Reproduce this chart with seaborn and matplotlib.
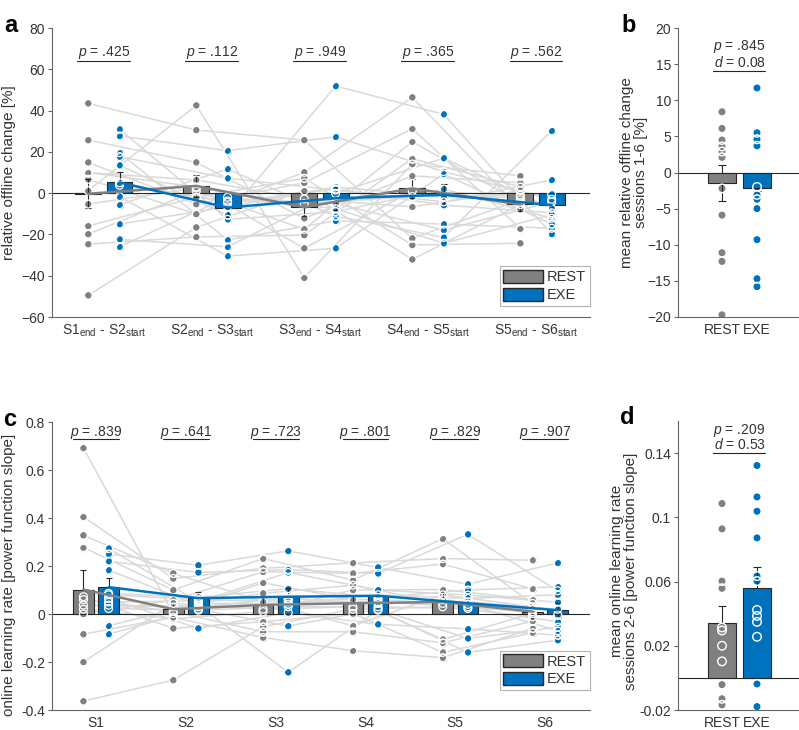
import numpy as np
import pandas as pd
import matplotlib
matplotlib.use('Agg')
import matplotlib.pyplot as plt
import seaborn as sns
from matplotlib.patches import Patch

REST_COLOR = '#808080'
EXE_COLOR = '#0072bd'
SUBJ_COLOR = '#d9d9d9'
TEXT_COLOR = '#333333'

# ---- panel a: offline change between sessions (one list per transition, subject order kept)
offline_labels = [r'S1$_{\rm end}$ - S2$_{\rm start}$', r'S2$_{\rm end}$ - S3$_{\rm start}$',
                  r'S3$_{\rm end}$ - S4$_{\rm start}$', r'S4$_{\rm end}$ - S5$_{\rm start}$',
                  r'S5$_{\rm end}$ - S6$_{\rm start}$']
offline_rest = [
    [43.5, 25.7, 14.9, 9.9, 6.7, 1.2, -5.3, -15.9, -19.8, -24.7, -49.5, 10.0],
    [30.6, 14.9, -5.3, 6.4, -10.1, 42.5, 2.5, -2.0, 1.0, -21.2, -16.6, 3.0],
    [25.7, -12.2, 5.0, -2.8, 10.1, -41.0, -5.0, 7.2, -17.5, -20.3, 1.2, -26.7],
    [-21.9, 8.4, 31.2, -6.6, 46.4, 14.1, -1.7, -25.1, 24.9, 16.7, -32.1, 1.0],
    [-3.3, 5.0, -17.2, 1.2, -7.8, 8.4, -2.0, -24.3, -4.5, 3.0, -5.5, -1.0],
]
offline_exe = [
    [30.9, 27.7, 19.6, 17.7, 13.5, 3.8, -1.7, -5.6, -15.0, -22.4, -26.0, 5.0],
    [-12.7, 20.6, -22.7, 7.2, -10.6, -3.8, -30.5, 11.7, -6.6, -26.0, -2.0, -4.5],
    [-9.0, 27.3, -13.4, 1.5, 51.9, -5.0, -26.7, -11.1, 3.0, -0.1, -7.5, 2.0],
    [2.0, 10.4, -15.0, -4.2, 38.2, -17.9, 9.3, -21.4, -1.7, 17.0, -24.3, -5.8],
    [-12.2, -3.0, -17.0, 6.4, -19.8, -4.2, -15.0, 30.2, -0.6, -7.4, -10.5, -9.5],
]
offline_rest_mean = [-0.3, 3.5, -6.8, 2.3, -5.5]
offline_rest_sem = [7.0, 5.5, 4.5, 4.5, 3.0]
offline_exe_mean = [5.2, -7.0, -2.5, -0.8, -5.8]
offline_exe_sem = [5.0, 4.5, 5.5, 5.0, 3.5]
offline_p = ['.425', '.112', '.949', '.365', '.562']

# ---- panel b: mean offline change sessions 1-6
mean_off_rest = [8.4, 6.1, 4.5, 3.6, 2.9, 2.1, -2.2, -5.9, -11.1, -12.3, -19.7]
mean_off_exe = [11.7, 5.5, 4.6, 3.7, -2.0, -3.1, -3.7, -5.0, -9.3, -14.7, -15.8]
mean_off_bar = [-1.5, -2.1]
mean_off_sem = [2.5, 0.4]

# ---- panel c: online learning rate per session
online_labels = ['S1', 'S2', 'S3', 'S4', 'S5', 'S6']
online_rest = [
    [0.692, 0.405, 0.328, 0.277, 0.072, 0.037, 0.0, -0.084, -0.2, -0.363, 0.06, 0.02],
    [0.002, 0.148, 0.169, 0.1, -0.06, 0.03, 0.058, -0.014, 0.045, -0.275, 0.01, -0.02],
    [0.13, 0.19, 0.051, 0.231, -0.032, 0.086, 0.176, -0.098, 0.02, -0.053, -0.074, 0.01],
    [0.06, 0.213, -0.049, 0.141, 0.002, 0.12, 0.169, -0.153, 0.03, 0.02, -0.074, 0.1],
    [-0.106, 0.231, 0.08, 0.314, -0.16, 0.044, 0.208, -0.182, 0.06, 0.03, -0.12, 0.102],
    [0.002, 0.224, 0.03, 0.044, -0.078, 0.019, 0.105, -0.06, 0.01, -0.012, -0.03, 0.06],
]
online_exe = [
    [0.273, 0.25, 0.22, 0.183, 0.086, 0.065, 0.037, 0.023, -0.049, -0.084, 0.08, 0.05],
    [0.05, 0.203, 0.173, 0.037, 0.069, -0.06, 0.03, 0.016, 0.045, 0.02, 0.06, 0.055],
    [0.173, 0.263, 0.185, -0.243, 0.106, 0.006, 0.065, 0.03, 0.041, -0.05, 0.05, 0.06],
    [0.1, 0.194, 0.169, 0.016, 0.069, -0.043, 0.044, 0.03, 0.08, 0.02, 0.05, 0.06],
    [0.079, 0.124, 0.332, -0.16, 0.1, -0.062, 0.051, 0.023, 0.065, -0.102, 0.03, 0.04],
    [0.049, 0.213, 0.097, -0.109, 0.113, -0.088, 0.02, -0.032, 0.08, -0.055, -0.004, -0.07],
]
online_rest_mean = [0.102, 0.02, 0.038, 0.045, 0.05, 0.01]
online_rest_sem = [0.08, 0.03, 0.03, 0.03, 0.04, 0.025]
online_exe_mean = [0.112, 0.066, 0.072, 0.076, 0.045, 0.016]
online_exe_sem = [0.036, 0.024, 0.035, 0.02, 0.04, 0.03]
online_p = ['.839', '.641', '.723', '.801', '.829', '.907']

# ---- panel d: mean online learning rate sessions 2-6
mean_on_rest = [0.1086, 0.0928, 0.0603, 0.0558, 0.0314, 0.0295, 0.02, 0.0103, -0.0042, -0.013, -0.0168]
mean_on_exe = [0.1323, 0.1127, 0.1038, 0.0872, 0.0634, 0.0603, 0.0423, 0.0386, 0.0349, 0.0256, -0.0038, -0.0179]
mean_on_bar = [0.034, 0.056]
mean_on_sem = [0.011, 0.013]

sns.set_style('ticks')
plt.rcParams['font.family'] = ['Liberation Sans', 'DejaVu Sans']
plt.rcParams['mathtext.fontset'] = 'custom'
plt.rcParams['mathtext.rm'] = 'Liberation Sans'
plt.rcParams['mathtext.it'] = 'Liberation Sans:italic'
plt.rcParams['text.color'] = TEXT_COLOR
plt.rcParams['axes.labelcolor'] = TEXT_COLOR
plt.rcParams['xtick.color'] = '#666666'
plt.rcParams['ytick.color'] = '#666666'
plt.rcParams['xtick.labelcolor'] = TEXT_COLOR
plt.rcParams['ytick.labelcolor'] = TEXT_COLOR

DOT = 32


def style_axes(ax, ylim, yticks, yticklabels=None):
    sns.despine(ax=ax)
    for side in ('left', 'bottom'):
        ax.spines[side].set_color('#666666')
        ax.spines[side].set_linewidth(0.8)
    ax.set_ylim(*ylim)
    ax.set_yticks(yticks)
    if yticklabels is not None:
        ax.set_yticklabels(yticklabels)
    ax.tick_params(axis='y', length=3, width=0.8, labelsize=10, pad=2)
    ax.tick_params(axis='x', length=0, labelsize=10, pad=4)


def session_panel(ax, labels, rest, exe, rest_mean, rest_sem, exe_mean, exe_sem,
                  off, width, xlim):
    pos = np.arange(1, len(labels) + 1)
    rows = []
    for cond, vals, sign in (('REST', rest, -1), ('EXE', exe, 1)):
        for g, group_vals in enumerate(vals):
            for s, v in enumerate(group_vals):
                rows.append({'cond': cond, 'subject': f'{cond}{s}',
                             'x': pos[g] + sign * off, 'y': v})
    df = pd.DataFrame(rows)
    sns.lineplot(data=df, x='x', y='y', units='subject', estimator=None,
                 color=SUBJ_COLOR, lw=1.1, ax=ax, legend=False, zorder=1)
    ax.axhline(0, color='#262626', lw=0.8, zorder=1.5)
    for cond, color, sign, m, e in (('REST', REST_COLOR, -1, rest_mean, rest_sem),
                                    ('EXE', EXE_COLOR, 1, exe_mean, exe_sem)):
        sub = df[df['cond'] == cond]
        sns.scatterplot(data=sub, x='x', y='y', color=color, edgecolor='white',
                        linewidth=0.6, s=DOT, ax=ax, zorder=2, legend=False)
        ax.errorbar(pos + sign * off, m, yerr=e, fmt='none', ecolor='#262626',
                    elinewidth=0.8, capsize=2.5, capthick=0.8, zorder=2.5)
        ax.bar(pos + sign * off, m, width=width, color=color, edgecolor='#262626',
               linewidth=0.8, zorder=3)
        ax.scatter(sub['x'], sub['y'], s=DOT, facecolors='none', edgecolors='white',
                   linewidths=0.9, zorder=4)
        sns.lineplot(x=pos + sign * off, y=m, color=color, lw=1.8, ax=ax, zorder=5)
    ax.set_xlim(*xlim)
    ax.set_xticks(pos)
    ax.set_xticklabels(labels)
    ax.set_xlabel('')
    return pos


def pvalue_marks(ax, pos, pvals, half, text_y, line_y):
    for x, p in zip(pos, pvals):
        ax.text(x, text_y, rf'$\it{{p}}$ = {p}', ha='center', va='baseline', fontsize=10)
        ax.plot([x - half, x + half], [line_y, line_y], color='#262626', lw=0.8)


def summary_panel(ax, rest, exe, bars, sems, xlim):
    df = pd.DataFrame({'x': [0] * len(rest) + [1] * len(exe), 'y': rest + exe,
                       'cond': ['REST'] * len(rest) + ['EXE'] * len(exe)})
    ax.axhline(0, color='#262626', lw=0.8, zorder=1.5)
    sns.scatterplot(data=df, x='x', y='y', hue='cond',
                    palette={'REST': REST_COLOR, 'EXE': EXE_COLOR}, edgecolor='white',
                    linewidth=0.6, s=DOT + 6, ax=ax, zorder=2, legend=False)
    ax.errorbar([0, 1], bars, yerr=sems, fmt='none', ecolor='#262626',
                elinewidth=0.8, capsize=3, capthick=0.8, zorder=2.5)
    ax.bar([0, 1], bars, width=0.8, color=[REST_COLOR, EXE_COLOR], edgecolor='#262626',
           linewidth=0.8, zorder=3)
    ax.scatter(df['x'], df['y'], s=DOT + 6, facecolors='none', edgecolors='white',
               linewidths=1.0, zorder=4)
    ax.set_xlim(*xlim)
    ax.set_xticks([0, 1])
    ax.set_xticklabels(['REST', 'EXE'])
    ax.set_xlabel('')


def legend(ax, y):
    handles = [Patch(facecolor=REST_COLOR, edgecolor='#262626', label='REST'),
               Patch(facecolor=EXE_COLOR, edgecolor='#262626', label='EXE')]
    leg = ax.legend(handles=handles, loc='lower right', bbox_to_anchor=(1.0, y),
                    borderaxespad=0, frameon=True, fancybox=False, fontsize=10.5,
                    handlelength=2.7, handleheight=0.95, handletextpad=0.3,
                    labelspacing=0.25, borderpad=0.25)
    leg.get_frame().set_edgecolor('#a0a0a0')
    leg.get_frame().set_linewidth(0.8)
    leg.set_zorder(10)


W, H = 799, 730
fig = plt.figure(figsize=(W / 100, H / 100), dpi=100)


def axes_px(left, top, right, bottom):
    return fig.add_axes([left / W, 1 - bottom / H, (right - left) / W, (bottom - top) / H])


ax_a = axes_px(52, 28, 590, 317)
ax_b = axes_px(678, 28, 799, 317)
ax_c = axes_px(52, 422, 590, 710)
ax_d = axes_px(678, 421, 799, 710)

# a
pos = session_panel(ax_a, offline_labels, offline_rest, offline_exe, offline_rest_mean,
                    offline_rest_sem, offline_exe_mean, offline_exe_sem,
                    off=0.145, width=0.24, xlim=(0.52, 5.5))
style_axes(ax_a, (-60, 80), np.arange(-60, 81, 20))
pvalue_marks(ax_a, pos, offline_p, 0.245, 66.3, 64.0)
ax_a.set_ylabel('relative offline change [%]', fontsize=11)
ax_a.yaxis.set_label_coords(-0.066, 0.5)
legend(ax_a, 0.038)

# b
summary_panel(ax_b, mean_off_rest, mean_off_exe, mean_off_bar, mean_off_sem, (-1.257, 2.2))
style_axes(ax_b, (-20, 20), np.arange(-20, 21, 5))
ax_b.text(0.5, 16.9, r'$\it{p}$ = .845', ha='center', va='baseline', fontsize=10)
ax_b.text(0.5, 14.65, r'$\it{d}$ = 0.08', ha='center', va='baseline', fontsize=10)
ax_b.plot([-0.26, 1.23], [14.1, 14.1], color='#262626', lw=0.8)
ax_b.set_ylabel('mean relative offline change\nsessions 1-6 [%]', fontsize=11, linespacing=1.0)
ax_b.yaxis.set_label_coords(-0.25, 0.5)

# c
pos = session_panel(ax_c, online_labels, online_rest, online_exe, online_rest_mean,
                    online_rest_sem, online_exe_mean, online_exe_sem,
                    off=0.14, width=0.23, xlim=(0.51, 6.5))
style_axes(ax_c, (-0.4, 0.8), np.round(np.arange(-0.4, 0.81, 0.2), 1),
           ['-0.4', '-0.2', '0', '0.2', '0.4', '0.6', '0.8'])
pvalue_marks(ax_c, pos, online_p, 0.255, 0.742, 0.728)
ax_c.set_ylabel('online learning rate [power function slope]', fontsize=11)
ax_c.yaxis.set_label_coords(-0.066, 0.47)
legend(ax_c, 0.069)

# d
summary_panel(ax_d, mean_on_rest, mean_on_exe, mean_on_bar, mean_on_sem, (-1.257, 2.2))
style_axes(ax_d, (-0.02, 0.16), [-0.02, 0.02, 0.06, 0.1, 0.14],
           ['-0.02', '0.02', '0.06', '0.1', '0.14'])
ax_d.text(0.5, 0.1522, r'$\it{p}$ = .209', ha='center', va='baseline', fontsize=10)
ax_d.text(0.5, 0.1423, r'$\it{d}$ = 0.53', ha='center', va='baseline', fontsize=10)
ax_d.plot([-0.26, 1.23], [0.1398, 0.1398], color='#262626', lw=0.8)
ax_d.set_ylabel('mean online learning rate\nsessions 2-6 [power function slope]',
                fontsize=11, linespacing=1.0)
ax_d.yaxis.set_label_coords(-0.33, 0.48)

for label, x, y in (('a', 4, 26), ('b', 621, 26), ('c', 3, 420), ('d', 620, 418)):
    fig.text(x / W, 1 - y / H, label, fontsize=17, fontweight='bold', color='black',
             ha='left', va='center')

fig.savefig('out.png', dpi=100)
